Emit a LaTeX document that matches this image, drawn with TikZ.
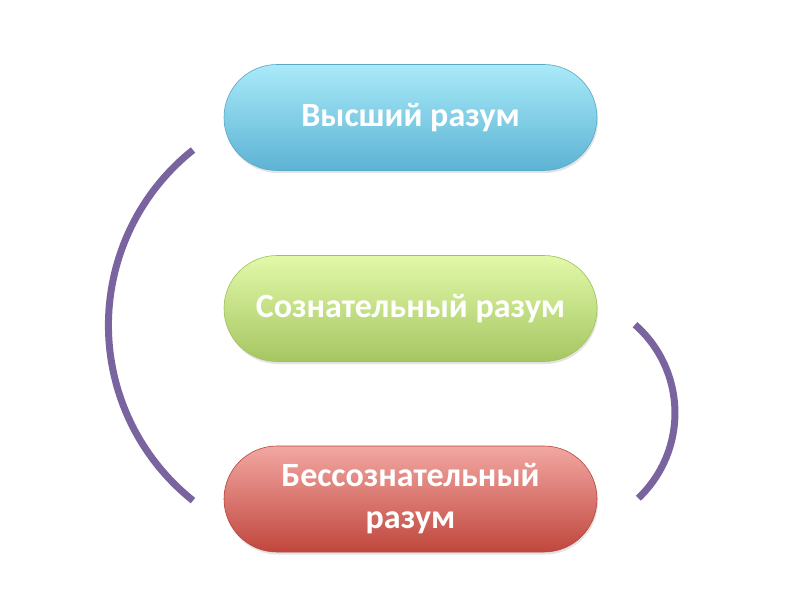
\documentclass[tikz,border=0pt]{standalone}
\usepackage{fontspec}
\setmainfont{Carlito}
\usetikzlibrary{shadows}
\definecolor{arcpurple}{HTML}{7A64A0}
\definecolor{bluetop}{HTML}{A9EAF9}
\definecolor{bluebot}{HTML}{5CB3D4}
\definecolor{blueedge}{HTML}{5AA8C6}
\definecolor{greentop}{HTML}{E2F9A9}
\definecolor{greenbot}{HTML}{A6C662}
\definecolor{greenedge}{HTML}{A0C05C}
\definecolor{redtop}{HTML}{F2A7A2}
\definecolor{redbot}{HTML}{C0473D}
\definecolor{rededge}{HTML}{B8463C}
\tikzset{
  pill/.style={rectangle, rounded corners=53pt, minimum width=373pt, minimum height=106pt,
    line width=0.6pt, text=white, align=center,
    font=\fontsize{34}{42}\selectfont\bfseries,
    drop shadow={opacity=0.22, shadow xshift=1pt, shadow yshift=-2.5pt}},
  arcline/.style={draw=arcpurple, line width=7pt}
}
\begin{document}
\begin{tikzpicture}[x=1pt,y=1pt]
\useasboundingbox[fill=white] (0,0) rectangle (810,614);
\node[pill, draw=blueedge, top color=bluetop, bottom color=bluebot] (high) at (410.5,496.5) {Высший разум};
\node[pill, draw=greenedge, top color=greentop, bottom color=greenbot] (cons) at (410.5,305.5) {Сознательный разум};
\node[pill, draw=rededge, top color=redtop, bottom color=redbot] (uncons) at (410.5,115) {Бессознательный\\разум};
\coordinate (lstart) at (193,464);
\coordinate (rstart) at (635,289.3);
\draw[arcline] (lstart) arc[start angle=128.5, end angle=231.5, radius=224];
\draw[arcline] (rstart) arc[start angle=48.7, end angle=-46.5, radius=117.5];
\end{tikzpicture}
\end{document}
